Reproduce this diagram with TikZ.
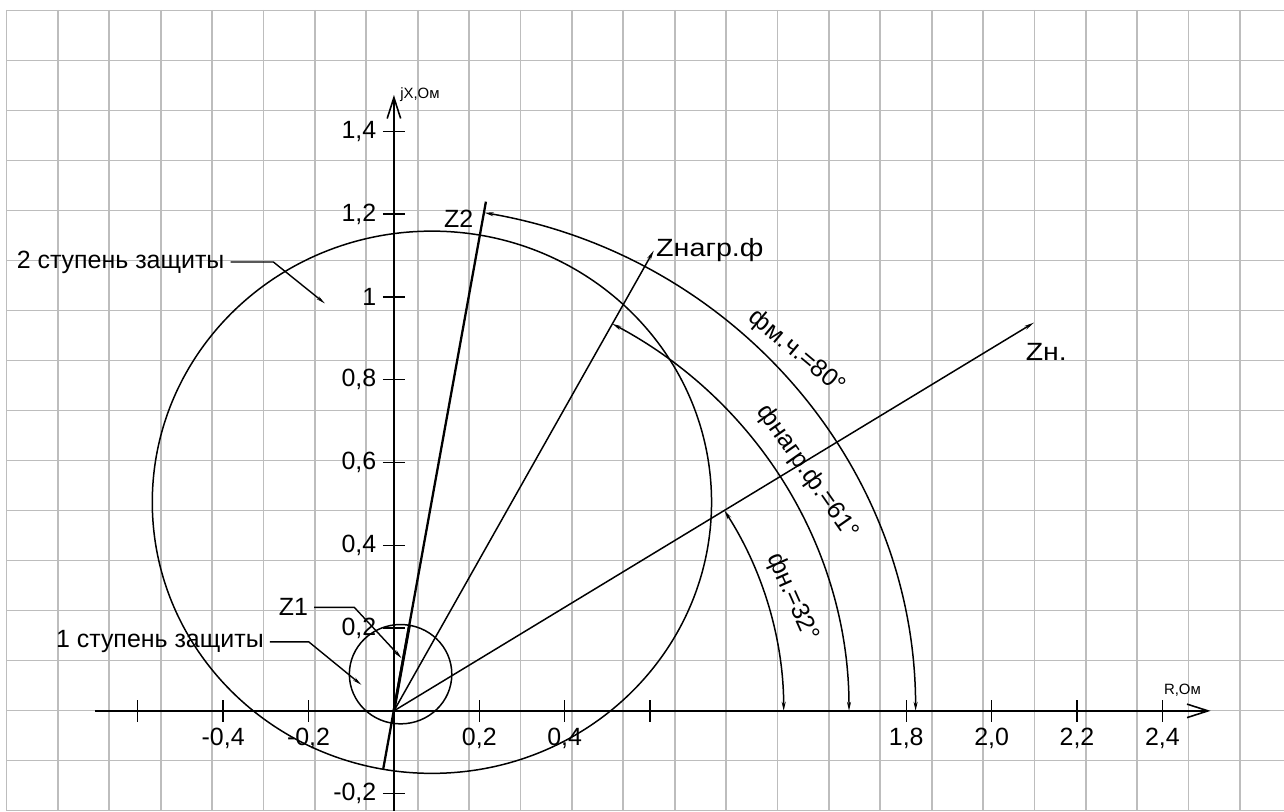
\documentclass[tikz,border=0pt]{standalone}
\usepackage{fontspec}
\setmainfont{Liberation Sans}
\usetikzlibrary{arrows.meta}
\definecolor{GridGray}{HTML}{BDBDBD}

\begin{document}
\begin{tikzpicture}[x=8.54cm,y=8.28cm,
font=\fontsize{14.2}{17}\selectfont,
gridline/.style={GridGray,line width=1pt},
axisline/.style={line width=0.9pt,-{Straight Barb[length=0.42cm,width=0.27cm]}},
axtick/.style={line width=0.8pt},
zone/.style={line width=0.85pt},
vec/.style={line width=0.85pt,-{Stealth[length=0.2cm,width=0.08cm]}},
dimarc/.style={line width=0.85pt,{Stealth[length=0.18cm,width=0.08cm]}-{Stealth[length=0.18cm,width=0.08cm]}},
leader/.style={line width=0.8pt,-{Stealth[length=0.18cm,width=0.07cm]}},
unitlabel/.style={font=\fontsize{8.5}{10}\selectfont}]
% paper grid, in pixels of the sheet
\begin{scope}[x=0.02cm,y=-0.02cm,shift={(-7.88cm,14.22cm)}]
\useasboundingbox (0,0) rectangle (1284,811);
\foreach \i in {0,...,24}
  \draw[gridline] ({6.6+51.39*\i},10) -- ({6.6+51.39*\i},811);
\foreach \j in {0,...,16}
  \draw[gridline] (6.6,{10.5+50*\j}) -- (1284,{10.5+50*\j});
\end{scope}
% axes
\coordinate (O) at (0,0);
\coordinate (xa) at (-0.7,0);
\coordinate (xb) at (1.913,0);
\coordinate (ya) at (0,-0.2415);
\coordinate (yb) at (0,1.488);
\draw[axisline] (xa) -- (xb);
\draw[axisline] (ya) -- (yb);
\node[unitlabel] (jx) at (0.061,1.488) {jX,Ом};
\node[unitlabel] (rr) at (1.847,0.0507) {R,Ом};
\foreach \y/\t [count=\k] in {1.4/{1,4},1.2/{1,2},1/1,0.8/{0,8},0.6/{0,6},0.4/{0,4},0.2/{0,2},-0.2/{-0,2}}
  \draw[axtick] (-0.026,\y) node[left] (yl\k) {\t} -- (0.026,\y);
\foreach \x in {-0.6,-0.4,-0.2,0.2,0.4,0.6,1.2,1.4,1.6,1.8}
  \draw[axtick] (\x,-0.0266) -- (\x,0.0266);
\foreach \x/\t [count=\k] in {-0.4/{-0,4},-0.2/{-0,2},0.2/{0,2},0.4/{0,4},1.2/{1,8},1.4/{2,0},1.6/{2,2},1.8/{2,4}}
  \node[below] (xl\k) at (\x,-0.0266) {\t};
% zones
\coordinate (c2) at (0.089,0.504);
\coordinate (c1) at (0.0156,0.0886);
\draw[zone] (c2) circle (0.655);
\draw[zone] (c1) circle (0.12);
% impedance vectors
\coordinate (Z2b) at (-0.025,-0.14);
\coordinate (Z2) at (0.2155,1.2302);
\coordinate (Z1) at (0.0365,0.2068);
\coordinate (Zf) at (0.6087,1.1123);
\coordinate (Zn) at (1.4993,0.938);
\draw[line width=1.3pt] (Z2b) -- (Z2);
\draw[line width=1.6pt] (O) -- (Z1);
\draw[vec] (O) -- (Zf);
\draw[vec] (O) -- (Zn);
\node (lZ2) at (0.1515,1.1884) {Z2};
\node[anchor=west,inner sep=1pt,xscale=1.15] (lZf) at (Zf) {Zнагр.ф};
\node[xscale=1.14] (lZn) at (1.528,0.868) {Zн.};
% angles
\draw[dimarc] (0.913,0) arc[start angle=0,end angle=32,radius=0.913];
\draw[dimarc] (1.066,0) arc[start angle=0,end angle=61.3,radius=1.066];
\draw[dimarc] (1.222,0) arc[start angle=0,end angle=80,radius=1.222];
\node[rotate=-40] (a80) at (0.9438,0.8659) {фм.ч.=80°};
\node[rotate=-55] (a61) at (0.968,0.576) {фнагр.ф.=61°};
\node[rotate=-66] (a32) at (0.9333,0.2742) {фн.=32°};
% callouts
\coordinate (p2) at (-0.1616,0.9843);
\coordinate (p1) at (-0.0761,0.0628);
\coordinate (pz) at (0.018,0.127);
\node[anchor=west] (st2) at (-0.898,1.0845) {2 ступень защиты};
\node[anchor=west] (st1) at (-0.806,0.1667) {1 ступень защиты};
\node[anchor=west] (lZ1) at (-0.284,0.25) {Z1};
\draw[leader] (st2.east) -- +(0.1,0) -- (p2);
\draw[leader] (st1.east) -- +(0.091,0) -- (p1);
\draw[leader] (lZ1.east) -- +(0.094,0) -- (pz);
\end{tikzpicture}
\end{document}
